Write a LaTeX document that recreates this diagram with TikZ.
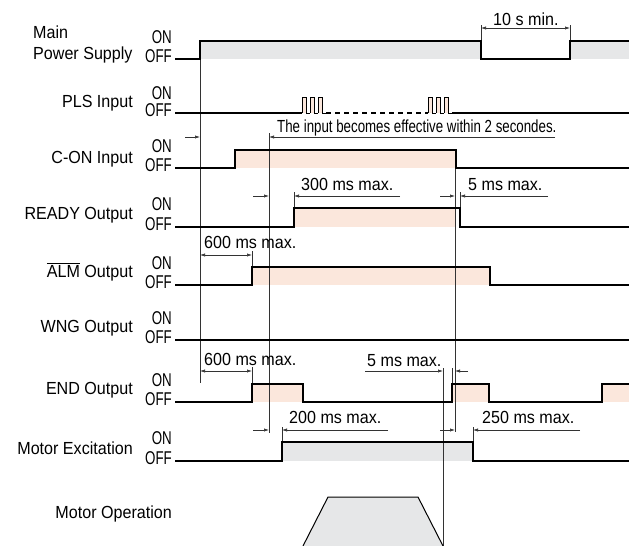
\documentclass[tikz,border=0pt]{standalone}
\usepackage{fontspec}
\setmainfont{Liberation Sans}[FakeStretch=0.92]
\newfontfamily\narrowfont{Liberation Sans}[FakeStretch=0.76]
\newfontfamily\levelfont{Liberation Sans}[FakeStretch=0.72]
\usetikzlibrary{arrows.meta}
\definecolor{pinkfill}{RGB}{251,231,220}
\definecolor{grayfill}{RGB}{230,231,232}

\begin{document}
\begin{tikzpicture}[x=1pt, y=-1pt, >={Latex[length=5pt,width=3.2pt]},
    sig/.style={line width=1.3pt, black},
    guide/.style={line width=0.6pt, black!80},
    dimline/.style={line width=0.6pt, black!80, ->},
    lbl/.style={anchor=base east, inner sep=0pt, font=\fontsize{17.5}{21}\selectfont},
    onoff/.style={anchor=base east, inner sep=0pt, font=\levelfont\fontsize{18.5}{19}\selectfont},
    dimtxt/.style={anchor=base west, inner sep=0pt, font=\fontsize{17.5}{21}\selectfont}]

        \useasboundingbox (0,0) rectangle (629,546);

        % ==== SIGNAL NAMES ====
        \node[lbl, anchor=base west] (main1) at (33,38) {Main};
        \node[lbl, anchor=base west] (main2) at (33,59) {Power Supply};
        \node[lbl] (pls)   at (133,107) {PLS Input};
        \node[lbl] (con)   at (133,163) {C-ON Input};
        \node[lbl] (ready) at (133,219) {READY Output};
        \node[lbl] (alm)   at (133,277) {$\overline{\mbox{ALM}}$ Output};
        \node[lbl] (wng)   at (133,332) {WNG Output};
        \node[lbl] (endo)  at (133,394) {END Output};
        \node[lbl] (mex)   at (133,454) {Motor Excitation};
        \node[lbl] (mop)   at (172,518) {Motor Operation};

        % ==== ON / OFF LEVELS ====
        \foreach \on/\off in {41/59, 97/113, 150/168, 208/227, 267/285, 322/340, 384/402, 442/461}{
            \node[onoff] (on\on)   at (172,\on+2.5)  {ON};
            \node[onoff] (off\off) at (172,\off+3.5) {OFF};
        }

        % ==== FILLS ====
        \fill[grayfill] (200,41) rectangle (481,59);
        \fill[grayfill] (570,41) rectangle (629,59);
        \fill[pinkfill] (235,150) rectangle (456,168);
        \fill[pinkfill] (294,208) rectangle (456,227);
        \fill[pinkfill] (252,267) rectangle (490,285);
        \fill[pinkfill] (252,384) rectangle (303,402);
        \fill[pinkfill] (452,384) rectangle (489,402);
        \fill[pinkfill] (602,384) rectangle (629,402);
        \fill[grayfill] (282,442) rectangle (473,461);
        \fill[grayfill] (303,546) -- (328,497) -- (418,497) -- (443,546) -- cycle;

        % ==== GUIDE LINES ====
        \draw[guide] (200,59) -- (200,383);
        \draw[guide] (269,133) -- (269,433);
        \draw[guide] (455,168) -- (455,432);
        \draw[guide] (443,368) -- (443,546);
        \foreach \x/\ya/\yb in {481/25/41, 570/25/41, 294/192/208, 460/192/208,
                                252/251/267, 252/367/384, 452/368/384, 282/427/442, 473/427/442}{
            \draw[guide] (\x,\ya) -- (\x,\yb);
        }

        % ==== SIGNALS ====
        \draw[sig] (175,59) -- (200,59) -- (200,41) -- (481,41) -- (481,59)
                   -- (570,59) -- (570,41) -- (629,41);
        \draw[sig] (175,113) -- (302,113);
        \foreach \s in {302,428}{
            \foreach \k in {0,8,16}{
                \fill[pinkfill] (\s+\k,97) rectangle (\s+\k+4,113);
                \draw[line width=1pt] (\s+\k,113) -- (\s+\k,97) -- (\s+\k+4,97)
                    -- (\s+\k+4,113) -- (\s+\k+8,113);
            }
        }
        \draw[sig, dash pattern=on 5pt off 4pt] (326,113) -- (428,113);
        \draw[sig] (452,113) -- (629,113);
        \draw[sig] (175,168) -- (235,168) -- (235,150) -- (456,150) -- (456,168) -- (629,168);
        \draw[sig] (175,227) -- (294,227) -- (294,208) -- (460,208) -- (460,227) -- (629,227);
        \draw[sig] (175,285) -- (252,285) -- (252,267) -- (490,267) -- (490,285) -- (629,285);
        \draw[sig] (175,340) -- (629,340);
        \draw[sig] (175,402) -- (252,402) -- (252,384) -- (303,384) -- (303,402)
                   -- (452,402) -- (452,384) -- (489,384) -- (489,402)
                   -- (602,402) -- (602,384) -- (629,384);
        \draw[sig] (175,461) -- (282,461) -- (282,442) -- (473,442) -- (473,461) -- (629,461);
        \draw[line width=1pt] (303,546) -- (328,497) -- (418,497) -- (443,546);

        % ==== TIMING DIMENSIONS ====
        \draw[dimline, <->] (481,28) -- (570,28);
        \node[dimtxt] (t10s) at (493,25) {10 s min.};

        \draw[dimline] (185,137) -- (200,137);
        \draw[dimline] (555,137) -- (269,137);
        \node[dimtxt, font=\narrowfont\fontsize{17.5}{21}\selectfont] (t2s) at (277,132)
            {The input becomes effective within 2 secondes.};

        \draw[dimline] (253,196) -- (269,196);
        \draw[dimline] (400,196) -- (294,196);
        \node[dimtxt] (t300) at (301,190) {300 ms max.};

        \draw[dimline] (440,196) -- (455,196);
        \draw[dimline] (548,196) -- (460,196);
        \node[dimtxt] (t5a) at (468,190) {5 ms max.};

        \draw[dimline, <->] (200,255) -- (252,255);
        \node[dimtxt] (t600a) at (204,248) {600 ms max.};

        \draw[dimline, <->] (200,371) -- (252,371);
        \node[dimtxt] (t600b) at (204,365) {600 ms max.};

        \draw[dimline] (365,371) -- (443,371);
        \draw[dimline] (468,371) -- (455,371);
        \node[dimtxt] (t5b) at (367,366) {5 ms max.};

        \draw[dimline] (253,430) -- (269,430);
        \draw[dimline] (388,430) -- (282,430);
        \node[dimtxt] (t200) at (289,423) {200 ms max.};

        \draw[dimline] (440,430) -- (455,430);
        \draw[dimline] (580,430) -- (473,430);
        \node[dimtxt] (t250) at (482,423) {250 ms max.};

    \end{tikzpicture}
\end{document}
